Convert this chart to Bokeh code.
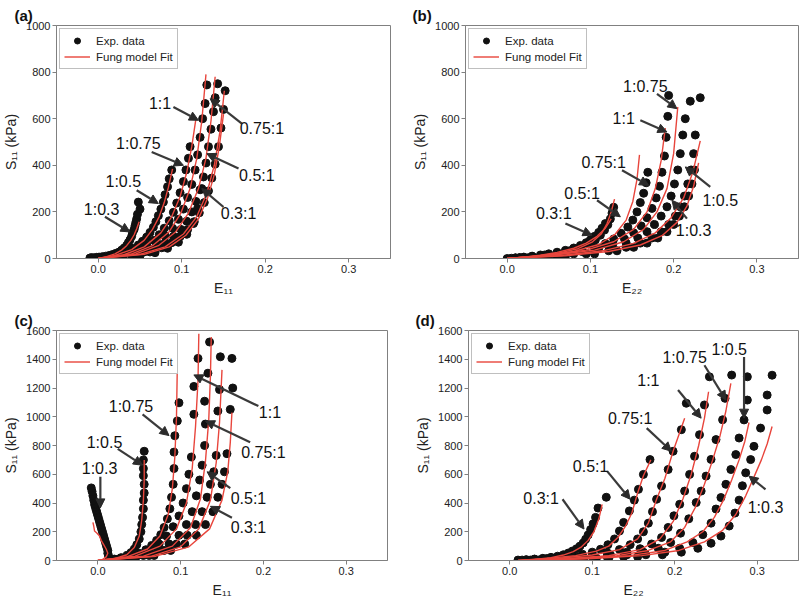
from bokeh.plotting import figure
from bokeh.models import (Range1d, FixedTicker, PrintfTickFormatter, Arrow, NormalHead,
                          Label, Legend, LegendItem)
from bokeh.layouts import column, row
from bokeh.embed import file_html
from bokeh.resources import INLINE

FONT = "Liberation Sans"
RED = "#e8453c"
DOT = "#111111"
GREY = "#808080"

# ---------------- tick values ----------------
x_ticks = [0.0, 0.1, 0.2, 0.3]
y_ticks_top = [0, 200, 400, 600, 800, 1000]
y_ticks_bottom = [0, 200, 400, 600, 800, 1000, 1200, 1400, 1600]

# ---------------- panel (a): S11 vs E11 ----------------
a_1_03_exp_x = [-0.010, -0.008, -0.005, -0.002, 0.001, 0.005, 0.009, 0.013, 0.017, 0.021, 0.025, 0.028, 0.031, 0.034, 0.036, 0.038, 0.040, 0.041, 0.043, 0.044, 0.045, 0.046, 0.047, 0.050, 0.048]
a_1_03_exp_y = [2, 4, 3, 5, 6, 8, 10, 13, 17, 22, 28, 36, 45, 56, 68, 80, 95, 110, 125, 140, 155, 170, 190, 212, 242]
a_1_03_fit_x = [0.000, 0.010, 0.020, 0.028, 0.034, 0.039, 0.043, 0.046, 0.049]
a_1_03_fit_y = [0, 8, 20, 36, 55, 78, 102, 128, 158]

a_1_05_exp_x = [0.005, 0.012, 0.020, 0.028, 0.035, 0.042, 0.048, 0.053, 0.058, 0.062, 0.066, 0.069, 0.072, 0.075, 0.078, 0.080, 0.083, 0.085, 0.088]
a_1_05_exp_y = [3, 8, 14, 22, 32, 44, 58, 74, 92, 112, 134, 158, 184, 212, 242, 274, 308, 342, 380]
a_1_05_fit_x = [0.000, 0.020, 0.040, 0.055, 0.065, 0.073, 0.079, 0.084, 0.089]
a_1_05_fit_y = [0, 13, 38, 78, 125, 180, 240, 305, 385]

a_1_075_exp_x = [0.010, 0.020, 0.030, 0.040, 0.050, 0.058, 0.066, 0.073, 0.079, 0.085, 0.090, 0.094, 0.098, 0.102, 0.105, 0.108, 0.110]
a_1_075_exp_y = [5, 10, 18, 28, 42, 58, 78, 102, 130, 162, 198, 238, 282, 330, 380, 430, 480]
a_1_075_fit_x = [0.000, 0.030, 0.055, 0.075, 0.088, 0.098, 0.106, 0.112, 0.117]
a_1_075_fit_y = [0, 15, 50, 110, 180, 265, 370, 480, 600]

a_1_1_exp_x = [0.015, 0.030, 0.045, 0.058, 0.070, 0.080, 0.089, 0.096, 0.102, 0.107, 0.112, 0.116, 0.119, 0.122, 0.125, 0.128, 0.130]
a_1_1_exp_y = [5, 14, 28, 46, 70, 98, 130, 168, 212, 262, 318, 380, 445, 520, 600, 665, 745]
a_1_1_fit_x = [0.000, 0.040, 0.065, 0.085, 0.099, 0.110, 0.118, 0.124, 0.129]
a_1_1_fit_y = [0, 20, 55, 115, 195, 300, 430, 590, 790]

a_075_1_exp_x = [0.020, 0.040, 0.055, 0.068, 0.080, 0.090, 0.099, 0.106, 0.112, 0.117, 0.122, 0.126, 0.129, 0.132, 0.135, 0.138, 0.140, 0.143]
a_075_1_exp_y = [5, 15, 28, 45, 68, 95, 125, 160, 200, 245, 295, 350, 410, 480, 555, 630, 690, 750]
a_075_1_fit_x = [0.000, 0.045, 0.072, 0.093, 0.108, 0.120, 0.129, 0.135, 0.140]
a_075_1_fit_y = [0, 20, 55, 115, 195, 300, 430, 590, 780]

a_05_1_exp_x = [0.025, 0.045, 0.062, 0.076, 0.088, 0.098, 0.107, 0.115, 0.121, 0.127, 0.132, 0.136, 0.140, 0.144, 0.147, 0.150, 0.152]
a_05_1_exp_y = [5, 14, 28, 46, 68, 94, 124, 158, 196, 240, 290, 345, 405, 480, 560, 640, 720]
a_05_1_fit_x = [0.000, 0.050, 0.080, 0.102, 0.118, 0.130, 0.139, 0.146, 0.151]
a_05_1_fit_y = [0, 18, 50, 105, 180, 280, 400, 550, 720]

a_03_1_exp_x = [0.030, 0.050, 0.068, 0.083, 0.096, 0.106, 0.114, 0.119, 0.124]
a_03_1_exp_y = [4, 12, 25, 44, 70, 104, 150, 215, 300]
a_03_1_fit_x = [0.000, 0.055, 0.085, 0.105, 0.120, 0.131, 0.139, 0.145, 0.150]
a_03_1_fit_y = [0, 18, 50, 100, 170, 260, 360, 480, 620]

# ---------------- panel (b): S11 vs E22 ----------------
b_03_1_exp_x = [0.000, 0.010, 0.020, 0.030, 0.040, 0.050, 0.060, 0.070, 0.080, 0.088, 0.095, 0.100, 0.105, 0.110, 0.114, 0.118]
b_03_1_exp_y = [0, 3, 6, 10, 15, 20, 27, 35, 45, 56, 68, 80, 95, 112, 130, 150]
b_03_1_fit_x = [0.000, 0.020, 0.040, 0.060, 0.080, 0.095, 0.108, 0.118, 0.125]
b_03_1_fit_y = [0, 6, 14, 26, 44, 66, 95, 130, 170]

b_05_1_exp_x = [0.005, 0.015, 0.030, 0.045, 0.060, 0.075, 0.088, 0.098, 0.106, 0.112, 0.117, 0.121, 0.124, 0.126, 0.128]
b_05_1_exp_y = [1, 4, 9, 15, 23, 33, 46, 62, 80, 100, 122, 145, 170, 195, 220]
b_05_1_fit_x = [0.000, 0.030, 0.060, 0.085, 0.102, 0.113, 0.120, 0.125, 0.129]
b_05_1_fit_y = [0, 9, 22, 42, 70, 105, 150, 200, 255]

b_075_1_exp_x = [0.010, 0.030, 0.050, 0.070, 0.090, 0.105, 0.118, 0.128, 0.137, 0.145, 0.151, 0.156, 0.160, 0.164, 0.167, 0.169]
b_075_1_exp_y = [2, 8, 15, 24, 35, 48, 64, 84, 108, 135, 165, 200, 240, 280, 325, 370]
b_075_1_fit_x = [0.000, 0.040, 0.080, 0.110, 0.130, 0.143, 0.151, 0.156, 0.159]
b_075_1_fit_y = [0, 12, 30, 60, 105, 165, 245, 340, 445]

b_1_1_exp_x = [0.015, 0.040, 0.065, 0.090, 0.110, 0.127, 0.141, 0.152, 0.161, 0.168, 0.174, 0.179, 0.183, 0.186, 0.189, 0.191, 0.193, 0.194]
b_1_1_exp_y = [3, 10, 18, 30, 44, 62, 84, 110, 140, 175, 215, 260, 310, 370, 440, 520, 610, 700]
b_1_1_fit_x = [0.000, 0.050, 0.095, 0.128, 0.152, 0.168, 0.178, 0.185, 0.190]
b_1_1_fit_y = [0, 14, 36, 72, 125, 200, 300, 420, 560]

b_1_075_exp_x = [0.020, 0.050, 0.080, 0.105, 0.126, 0.143, 0.157, 0.168, 0.177, 0.185, 0.192, 0.197, 0.201, 0.205, 0.208, 0.211, 0.214, 0.220]
b_1_075_exp_y = [3, 10, 20, 33, 48, 66, 88, 115, 146, 182, 222, 268, 320, 380, 450, 530, 600, 675]
b_1_075_fit_x = [0.000, 0.055, 0.105, 0.140, 0.164, 0.180, 0.192, 0.200, 0.205]
b_1_075_fit_y = [0, 14, 36, 72, 125, 200, 300, 450, 650]

b_1_05_exp_x = [0.025, 0.060, 0.095, 0.122, 0.143, 0.160, 0.174, 0.185, 0.194, 0.202, 0.208, 0.213, 0.217, 0.221, 0.224, 0.226, 0.232]
b_1_05_exp_y = [3, 10, 20, 33, 48, 66, 88, 115, 146, 182, 222, 268, 320, 380, 450, 530, 690]
b_1_05_fit_x = [0.000, 0.065, 0.115, 0.152, 0.178, 0.197, 0.212, 0.223, 0.232]
b_1_05_fit_y = [0, 13, 33, 65, 110, 175, 260, 370, 505]

b_1_03_exp_x = [0.030, 0.070, 0.105, 0.132, 0.152, 0.168, 0.181, 0.192, 0.200, 0.207, 0.213, 0.218, 0.222, 0.225]
b_1_03_exp_y = [3, 10, 20, 33, 48, 66, 88, 115, 146, 182, 222, 268, 320, 380]
b_1_03_fit_x = [0.000, 0.070, 0.122, 0.160, 0.186, 0.204, 0.216, 0.224, 0.230]
b_1_03_fit_y = [0, 12, 30, 58, 98, 155, 225, 310, 410]

# ---------------- panel (c): S11 vs E11 ----------------
c_1_03_exp_x = [0.014, 0.013, 0.012, 0.012, 0.011, 0.010, 0.009, 0.008, 0.007, 0.006, 0.005, 0.004, 0.003, 0.002, 0.001, 0.000, -0.001, -0.002, -0.003, -0.004, -0.005, -0.006, -0.007, -0.008]
c_1_03_exp_y = [10, 30, 50, 70, 90, 110, 130, 150, 170, 190, 210, 230, 250, 270, 290, 310, 330, 350, 370, 390, 420, 450, 480, 505]
c_1_03_fit_x = [-0.006, -0.005, -0.004, -0.001, 0.002, 0.004, 0.007, 0.010, 0.012, 0.010, 0.005]
c_1_03_fit_y = [265, 240, 205, 190, 170, 140, 110, 80, 50, 25, 5]

c_1_05_exp_x = [0.020, 0.028, 0.035, 0.040, 0.044, 0.047, 0.050, 0.052, 0.053, 0.054, 0.055, 0.055, 0.056, 0.056, 0.055, 0.055, 0.055, 0.056]
c_1_05_exp_y = [10, 20, 35, 55, 80, 110, 150, 200, 250, 300, 360, 420, 470, 530, 590, 640, 700, 760]
c_1_05_fit_x = [0.000, 0.020, 0.035, 0.044, 0.050, 0.053, 0.055, 0.056, 0.056]
c_1_05_fit_y = [0, 12, 40, 90, 170, 280, 420, 560, 700]

c_1_075_exp_x = [0.025, 0.040, 0.050, 0.058, 0.065, 0.071, 0.076, 0.080, 0.084, 0.087, 0.089, 0.091, 0.092, 0.092, 0.093, 0.096, 0.098]
c_1_075_exp_y = [10, 30, 50, 75, 105, 140, 180, 230, 290, 360, 440, 530, 640, 754, 868, 971, 1097]
c_1_075_fit_x = [0.000, 0.035, 0.060, 0.075, 0.085, 0.090, 0.093, 0.095, 0.096]
c_1_075_fit_y = [0, 25, 80, 170, 320, 500, 720, 1000, 1348]

c_1_1_exp_x = [0.030, 0.048, 0.062, 0.074, 0.083, 0.091, 0.098, 0.103, 0.107, 0.110, 0.113, 0.116, 0.116, 0.121]
c_1_1_exp_y = [10, 35, 70, 115, 170, 235, 310, 400, 500, 600, 720, 1017, 1211, 1406]
c_1_1_fit_x = [0.000, 0.045, 0.075, 0.095, 0.107, 0.114, 0.118, 0.121, 0.122]
c_1_1_fit_y = [0, 30, 100, 220, 400, 640, 930, 1250, 1577]

c_075_1_exp_x = [0.035, 0.055, 0.072, 0.086, 0.098, 0.107, 0.114, 0.119, 0.123, 0.126, 0.129, 0.130, 0.129, 0.133, 0.135]
c_075_1_exp_y = [10, 35, 70, 115, 175, 250, 340, 450, 560, 663, 800, 949, 1108, 1303, 1520]
c_075_1_fit_x = [0.000, 0.055, 0.090, 0.112, 0.124, 0.130, 0.134, 0.136, 0.137]
c_075_1_fit_y = [0, 30, 100, 230, 430, 690, 980, 1280, 1555]

c_05_1_exp_x = [0.040, 0.062, 0.080, 0.095, 0.108, 0.118, 0.126, 0.132, 0.136, 0.140, 0.143, 0.145, 0.147, 0.148]
c_05_1_exp_y = [10, 35, 70, 115, 175, 250, 340, 440, 530, 617, 731, 1040, 1189, 1417]
c_05_1_fit_x = [0.000, 0.065, 0.100, 0.122, 0.136, 0.143, 0.147, 0.150]
c_05_1_fit_y = [0, 30, 95, 220, 420, 680, 960, 1326]

c_03_1_exp_x = [0.045, 0.068, 0.088, 0.105, 0.119, 0.130, 0.139, 0.145, 0.150, 0.153, 0.156, 0.160, 0.163, 0.162]
c_03_1_exp_y = [10, 35, 70, 115, 175, 250, 340, 440, 530, 617, 743, 1051, 1200, 1406]
c_03_1_fit_x = [0.000, 0.070, 0.110, 0.135, 0.150, 0.157, 0.160, 0.162]
c_03_1_fit_y = [0, 30, 95, 220, 420, 620, 820, 1029]

# ---------------- panel (d): S11 vs E22 ----------------
d_03_1_exp_x = [0.010, 0.020, 0.030, 0.040, 0.050, 0.058, 0.065, 0.071, 0.076, 0.081, 0.085, 0.089, 0.092, 0.095, 0.098, 0.101, 0.104, 0.107, 0.117]
d_03_1_exp_y = [3, 6, 10, 15, 22, 30, 40, 52, 66, 82, 100, 122, 148, 178, 215, 255, 300, 365, 440]
d_03_1_fit_x = [0.010, 0.030, 0.050, 0.065, 0.077, 0.087, 0.095, 0.102, 0.108, 0.112]
d_03_1_fit_y = [0, 8, 20, 38, 62, 95, 140, 200, 290, 390]

d_05_1_exp_x = [0.015, 0.030, 0.045, 0.060, 0.075, 0.088, 0.100, 0.110, 0.119, 0.127, 0.133, 0.138, 0.145, 0.151, 0.156, 0.162, 0.170]
d_05_1_exp_y = [3, 8, 14, 22, 32, 44, 58, 78, 110, 150, 205, 265, 345, 420, 495, 599, 702]
d_05_1_fit_x = [0.010, 0.045, 0.080, 0.105, 0.120, 0.131, 0.140, 0.148, 0.155, 0.162, 0.171]
d_05_1_fit_y = [0, 14, 34, 65, 100, 160, 235, 330, 470, 590, 700]

d_075_1_exp_x = [0.020, 0.040, 0.060, 0.080, 0.100, 0.118, 0.133, 0.146, 0.155, 0.162, 0.168, 0.173, 0.178, 0.184, 0.192, 0.198, 0.208, 0.214]
d_075_1_exp_y = [3, 9, 16, 25, 38, 55, 76, 110, 150, 200, 260, 340, 426, 518, 633, 760, 910, 1094]
d_075_1_fit_x = [0.010, 0.060, 0.100, 0.133, 0.155, 0.168, 0.178, 0.188, 0.198, 0.206, 0.212]
d_075_1_fit_y = [0, 16, 38, 76, 150, 260, 426, 570, 760, 890, 990]

d_1_1_exp_x = [0.025, 0.050, 0.075, 0.100, 0.122, 0.142, 0.158, 0.172, 0.184, 0.192, 0.199, 0.206, 0.212, 0.218, 0.224, 0.230, 0.236, 0.242]
d_1_1_exp_y = [3, 9, 16, 26, 40, 58, 82, 115, 160, 230, 311, 391, 483, 599, 725, 875, 1082, 1278]
d_1_1_fit_x = [0.015, 0.070, 0.120, 0.158, 0.182, 0.198, 0.210, 0.220, 0.229, 0.236, 0.241]
d_1_1_fit_y = [0, 14, 34, 76, 150, 270, 430, 600, 800, 990, 1174]

d_1_075_exp_x = [0.030, 0.060, 0.090, 0.118, 0.142, 0.162, 0.180, 0.195, 0.207, 0.217, 0.226, 0.232, 0.238, 0.244, 0.250, 0.258, 0.261, 0.269]
d_1_075_exp_y = [3, 9, 16, 26, 40, 58, 85, 125, 190, 290, 403, 483, 587, 703, 841, 979, 1128, 1290]
d_1_075_fit_x = [0.020, 0.080, 0.130, 0.168, 0.195, 0.212, 0.225, 0.236, 0.246, 0.255, 0.262, 0.268]
d_1_075_fit_y = [0, 14, 34, 70, 130, 230, 370, 530, 700, 870, 1040, 1232]

d_1_05_exp_x = [0.035, 0.070, 0.105, 0.138, 0.165, 0.188, 0.206, 0.222, 0.234, 0.244, 0.250, 0.256, 0.262, 0.268, 0.274, 0.278, 0.284, 0.288, 0.288]
d_1_05_exp_y = [3, 9, 16, 26, 40, 58, 85, 125, 180, 260, 358, 438, 530, 633, 737, 852, 978, 1116, 1278]
d_1_05_fit_x = [0.025, 0.090, 0.145, 0.188, 0.215, 0.234, 0.248, 0.259, 0.269, 0.278, 0.285, 0.290]
d_1_05_fit_y = [0, 14, 34, 70, 130, 200, 300, 420, 560, 700, 830, 960]

d_1_03_exp_x = [0.040, 0.080, 0.120, 0.155, 0.185, 0.208, 0.228, 0.244, 0.256, 0.266, 0.273, 0.278, 0.282, 0.286, 0.292, 0.296, 0.304, 0.312, 0.312, 0.318]
d_1_03_exp_y = [3, 9, 16, 26, 40, 58, 85, 120, 170, 240, 330, 420, 520, 610, 702, 794, 921, 1047, 1151, 1289]
d_1_03_fit_x = [0.030, 0.100, 0.160, 0.205, 0.236, 0.258, 0.274, 0.286, 0.296, 0.305, 0.312, 0.318]
d_1_03_fit_y = [0, 14, 34, 70, 130, 210, 320, 450, 580, 700, 810, 932]

# ---------------- annotation positions: (text, text x, text y, arrow x0, y0, x1, y1) ----------------
a_notes = [("1:0.3", 0.004, 210, 0.008, 179, 0.038, 114),
           ("1:0.5", 0.030, 329, 0.046, 293, 0.072, 236),
           ("1:0.75", 0.048, 493, 0.064, 457, 0.102, 400),
           ("1:1", 0.074, 664, 0.090, 650, 0.120, 593),
           ("0.75:1", 0.196, 557, 0.172, 579, 0.134, 686),
           ("0.5:1", 0.190, 357, 0.168, 386, 0.130, 450),
           ("0.3:1", 0.168, 193, 0.150, 221, 0.124, 300)]
b_notes = [("1:0.75", 0.166, 739, 0.180, 707, 0.204, 643),
           ("1:1", 0.140, 600, 0.160, 593, 0.192, 543),
           ("0.75:1", 0.116, 414, 0.138, 379, 0.170, 314),
           ("0.5:1", 0.090, 279, 0.108, 250, 0.136, 179),
           ("0.3:1", 0.056, 193, 0.070, 150, 0.102, 100),
           ("1:0.5", 0.256, 250, 0.244, 307, 0.214, 393),
           ("1:0.3", 0.224, 121, 0.216, 171, 0.198, 250)]
c_notes = [("1:0.3", 0.002, 640, 0.003, 583, 0.003, 366),
           ("1:0.5", 0.008, 823, 0.024, 777, 0.054, 663),
           ("1:0.75", 0.040, 1074, 0.054, 1017, 0.086, 869),
           ("1:1", 0.208, 1029, 0.194, 1074, 0.116, 1291),
           ("0.75:1", 0.200, 754, 0.184, 823, 0.130, 971),
           ("0.5:1", 0.182, 434, 0.160, 503, 0.132, 617),
           ("0.3:1", 0.182, 229, 0.162, 297, 0.136, 377)]
d_notes = [("0.3:1", 0.038, 430, 0.064, 426, 0.090, 219),
           ("0.5:1", 0.098, 656, 0.118, 622, 0.146, 426),
           ("0.75:1", 0.146, 990, 0.166, 921, 0.196, 760),
           ("1:1", 0.168, 1255, 0.204, 1186, 0.232, 990),
           ("1:0.75", 0.212, 1411, 0.236, 1358, 0.262, 1116),
           ("1:0.5", 0.266, 1466, 0.284, 1416, 0.284, 990),
           ("1:0.3", 0.310, 368, 0.310, 495, 0.290, 587)]

a_curves = [(a_1_03_exp_x, a_1_03_exp_y, a_1_03_fit_x, a_1_03_fit_y),
            (a_1_05_exp_x, a_1_05_exp_y, a_1_05_fit_x, a_1_05_fit_y),
            (a_1_075_exp_x, a_1_075_exp_y, a_1_075_fit_x, a_1_075_fit_y),
            (a_1_1_exp_x, a_1_1_exp_y, a_1_1_fit_x, a_1_1_fit_y),
            (a_075_1_exp_x, a_075_1_exp_y, a_075_1_fit_x, a_075_1_fit_y),
            (a_05_1_exp_x, a_05_1_exp_y, a_05_1_fit_x, a_05_1_fit_y),
            (a_03_1_exp_x, a_03_1_exp_y, a_03_1_fit_x, a_03_1_fit_y)]
b_curves = [(b_03_1_exp_x, b_03_1_exp_y, b_03_1_fit_x, b_03_1_fit_y),
            (b_05_1_exp_x, b_05_1_exp_y, b_05_1_fit_x, b_05_1_fit_y),
            (b_075_1_exp_x, b_075_1_exp_y, b_075_1_fit_x, b_075_1_fit_y),
            (b_1_1_exp_x, b_1_1_exp_y, b_1_1_fit_x, b_1_1_fit_y),
            (b_1_075_exp_x, b_1_075_exp_y, b_1_075_fit_x, b_1_075_fit_y),
            (b_1_05_exp_x, b_1_05_exp_y, b_1_05_fit_x, b_1_05_fit_y),
            (b_1_03_exp_x, b_1_03_exp_y, b_1_03_fit_x, b_1_03_fit_y)]
c_curves = [(c_1_03_exp_x, c_1_03_exp_y, c_1_03_fit_x, c_1_03_fit_y),
            (c_1_05_exp_x, c_1_05_exp_y, c_1_05_fit_x, c_1_05_fit_y),
            (c_1_075_exp_x, c_1_075_exp_y, c_1_075_fit_x, c_1_075_fit_y),
            (c_1_1_exp_x, c_1_1_exp_y, c_1_1_fit_x, c_1_1_fit_y),
            (c_075_1_exp_x, c_075_1_exp_y, c_075_1_fit_x, c_075_1_fit_y),
            (c_05_1_exp_x, c_05_1_exp_y, c_05_1_fit_x, c_05_1_fit_y),
            (c_03_1_exp_x, c_03_1_exp_y, c_03_1_fit_x, c_03_1_fit_y)]
d_curves = [(d_03_1_exp_x, d_03_1_exp_y, d_03_1_fit_x, d_03_1_fit_y),
            (d_05_1_exp_x, d_05_1_exp_y, d_05_1_fit_x, d_05_1_fit_y),
            (d_075_1_exp_x, d_075_1_exp_y, d_075_1_fit_x, d_075_1_fit_y),
            (d_1_1_exp_x, d_1_1_exp_y, d_1_1_fit_x, d_1_1_fit_y),
            (d_1_075_exp_x, d_1_075_exp_y, d_1_075_fit_x, d_1_075_fit_y),
            (d_1_05_exp_x, d_1_05_exp_y, d_1_05_fit_x, d_1_05_fit_y),
            (d_1_03_exp_x, d_1_03_exp_y, d_1_03_fit_x, d_1_03_fit_y)]


def make_panel(tag, tag_offset, xlabel, yticks, curves, notes, width, height, bl, br, bt, bb):
    p = figure(width=width, height=height, x_range=Range1d(-0.05, 0.35),
               y_range=Range1d(yticks[0], yticks[-1]), output_backend="svg",
               toolbar_location=None, min_border_left=bl, min_border_right=br,
               min_border_top=bt, min_border_bottom=bb)
    p.title.text = tag
    p.title.align = "left"
    p.title.offset = tag_offset
    p.title.standoff = 4
    p.title.text_font = FONT
    p.title.text_font_size = "15px"
    p.title.text_font_style = "bold"
    p.title.text_color = "#111111"
    p.xgrid.visible = False
    p.ygrid.visible = False
    p.outline_line_color = GREY
    p.outline_line_width = 1
    p.background_fill_color = "white"
    for ax in (p.xaxis[0], p.yaxis[0]):
        ax.axis_line_color = GREY
        ax.major_tick_line_color = GREY
        ax.minor_tick_line_color = None
        ax.major_tick_in = 0
        ax.major_tick_out = 4
        ax.major_label_standoff = 2
        ax.axis_label_standoff = 4
        ax.major_label_text_font = FONT
        ax.major_label_text_font_size = "11px"
        ax.major_label_text_color = "#222222"
        ax.axis_label_text_font = FONT
        ax.axis_label_text_font_size = "14px"
        ax.axis_label_text_font_style = "normal"
        ax.axis_label_text_color = "#222222"
    p.xaxis.ticker = FixedTicker(ticks=x_ticks)
    p.xaxis.formatter = PrintfTickFormatter(format="%.1f")
    p.yaxis.ticker = FixedTicker(ticks=yticks)
    p.xaxis.axis_label = xlabel
    p.yaxis.axis_label = "S\u2081\u2081 (kPa)"

    exp_renderers = []
    fit_renderers = []
    for ex, ey, fx, fy in curves:
        exp_renderers.append(p.scatter(ex, ey, size=8, color=DOT, line_color=DOT))
    for ex, ey, fx, fy in curves:
        fit_renderers.append(p.line(fx, fy, line_color=RED, line_width=1.4))

    legend = Legend(items=[LegendItem(label="Exp. data", renderers=[exp_renderers[0]]),
                           LegendItem(label="Fung model Fit", renderers=[fit_renderers[0]])],
                    location="top_left", margin=3, padding=4, spacing=1,
                    glyph_width=26, glyph_height=15, label_height=15, label_standoff=6,
                    label_text_font=FONT, label_text_font_size="11.5px",
                    label_text_color="#222222",
                    border_line_color=GREY, border_line_width=1,
                    background_fill_color="white", background_fill_alpha=1.0)
    p.add_layout(legend)

    for text, tx, ty, x0, y0, x1, y1 in notes:
        p.add_layout(Arrow(end=NormalHead(size=9, fill_color="#2b2b2b", line_color="#2b2b2b"),
                           x_start=x0, y_start=y0, x_end=x1, y_end=y1,
                           line_color="#3a3a3a", line_width=2.2))
        p.add_layout(Label(x=tx, y=ty, text=text, text_align="center", text_baseline="middle",
                           text_font=FONT, text_font_size="16px", text_color="#111111"))
    return p


pa = make_panel("(a)", -42, "E\u2081\u2081", y_ticks_top, a_curves, a_notes,
                400, 298, 55, 10, 25, 40)
pb = make_panel("(b)", -53, "E\u2082\u2082", y_ticks_top, b_curves, b_notes,
                400, 298, 65, 2, 25, 40)
pc = make_panel("(c)", -42, "E\u2081\u2081", y_ticks_bottom, c_curves, c_notes,
                400, 302, 55, 13, 32, 37)
pd = make_panel("(d)", -53, "E\u2082\u2082", y_ticks_bottom, d_curves, d_notes,
                400, 302, 68, 2, 32, 37)

layout = column(row(pa, pb), row(pc, pd))
open("out.html", "w").write(file_html(layout, INLINE))
